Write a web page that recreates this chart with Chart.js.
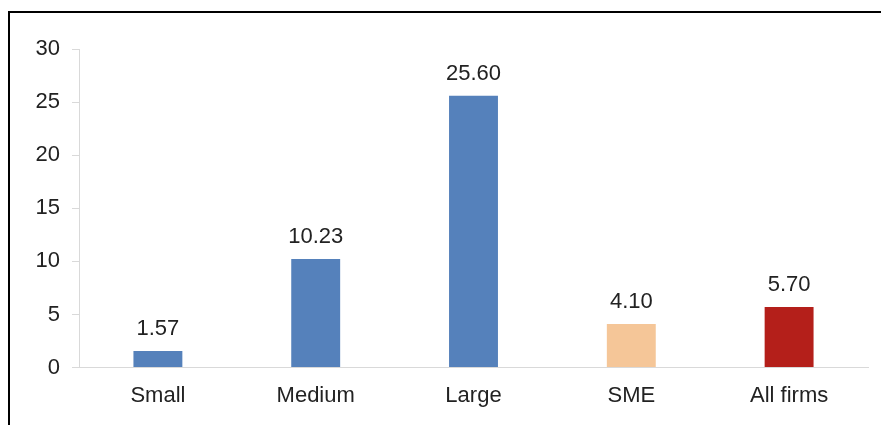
<!DOCTYPE html>
<html>
<head>
<meta charset="utf-8">
<script src="https://cdn.jsdelivr.net/npm/chart.js@4.4.1/dist/chart.umd.min.js"></script>
<style>
    html, body { margin: 0; padding: 0; background: #fff; }
    #wrap { position: relative; width: 881px; height: 425px; }
</style>
</head>
<body>
<div id="wrap"><canvas id="firmChart"></canvas></div>
<script>
// Data
const categories = ['Small', 'Medium', 'Large', 'SME', 'All firms'];
const values = [1.57, 10.23, 25.60, 4.10, 5.70];
const barColors = ['#5581BB', '#5581BB', '#5581BB', '#F5C698', '#B41F1A'];

Chart.defaults.font.family = '"Liberation Sans", Arial, sans-serif';
Chart.defaults.color = '#222';

// Value labels above each bar
const valueLabels = {
    id: 'valueLabels',
    afterDatasetsDraw(chart) {
        const ctx = chart.ctx;
        const meta = chart.getDatasetMeta(0);
        ctx.save();
        ctx.font = '22px "Liberation Sans", Arial, sans-serif';
        ctx.fillStyle = '#222';
        ctx.textAlign = 'center';
        ctx.textBaseline = 'alphabetic';
        meta.data.forEach(function(bar, i) {
            ctx.fillText(values[i].toFixed(2), bar.x, bar.y - 16);
        });
        ctx.restore();
    }
};

// Frame lines at top and left
const frame = {
    id: 'frame',
    afterDraw(chart) {
        const ctx = chart.ctx;
        ctx.save();
        ctx.strokeStyle = '#000';
        ctx.lineWidth = 2;
        ctx.beginPath();
        ctx.moveTo(9, chart.height);
        ctx.lineTo(9, 12);
        ctx.lineTo(chart.width, 12);
        ctx.stroke();
        ctx.restore();
    }
};

const ctx = document.getElementById('firmChart').getContext('2d');
const firmChart = new Chart(ctx, {
    type: 'bar',
    data: {
        labels: categories,
        datasets: [{
            data: values,
            backgroundColor: barColors,
            borderWidth: 0,
            categoryPercentage: 1,
            barPercentage: 0.31
        }]
    },
    options: {
        responsive: true,
        maintainAspectRatio: false,
        animation: false,
        layout: {
            padding: { left: 20, right: 13, top: 49, bottom: 1 }
        },
        scales: {
            y: {
                min: 0,
                max: 30,
                ticks: {
                    stepSize: 5,
                    padding: 12,
                    font: { size: 22 },
                    color: '#222'
                },
                grid: {
                    drawOnChartArea: false,
                    tickLength: 7,
                    color: '#d9d9d9'
                },
                border: { color: '#d9d9d9' },
                afterFit: function(scale) { scale.width = 59; }
            },
            x: {
                ticks: {
                    padding: 15,
                    font: { size: 22 },
                    color: '#222'
                },
                grid: { display: false, tickLength: 0 },
                border: { color: '#d9d9d9' }
            }
        },
        plugins: {
            legend: { display: false },
            tooltip: { enabled: false }
        }
    },
    plugins: [valueLabels, frame]
});
</script>
</body>
</html>
